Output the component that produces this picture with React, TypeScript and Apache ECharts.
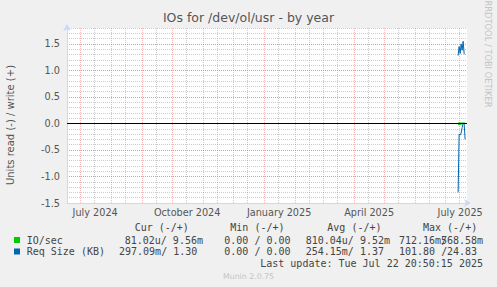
import React, { useEffect, useRef } from 'react';
import * as echarts from 'echarts';

// ---------- data ----------
const titleText = 'IOs for /dev/ol/usr - by year';
const yAxisName = 'Units read (-) / write (+)';
const sideText = 'RRDTOOL / TOBI OETIKER';
const versionText = 'Munin 2.0.75';

const rangeStart = '2024-06-17T20:50:15Z';
const rangeEnd = '2025-07-22T20:50:15Z';

const monthStarts = [
  '2024-07-01', '2024-08-01', '2024-09-01', '2024-10-01', '2024-11-01', '2024-12-01',
  '2025-01-01', '2025-02-01', '2025-03-01', '2025-04-01', '2025-05-01', '2025-06-01', '2025-07-01',
];
const midMonths = [
  '2024-07-15', '2024-08-15', '2024-09-15', '2024-10-15', '2024-11-15', '2024-12-15',
  '2025-01-15', '2025-02-15', '2025-03-15', '2025-04-15', '2025-05-15', '2025-06-15', '2025-07-15',
];
const xLabelDates = ['2024-07-16', '2024-10-16', '2025-01-16', '2025-04-16', '2025-07-16'];
const xLabelTexts = ['July 2024', 'October 2024', 'January 2025', 'April 2025', 'July 2025'];
const yMajorTicks = [-1.5, -1.0, -0.5, 0, 0.5, 1.0, 1.5];

const days = ['2025-07-14', '2025-07-15', '2025-07-16', '2025-07-17', '2025-07-18', '2025-07-19', '2025-07-20', '2025-07-21'];
const ioRead = [-0.02, -0.02, -0.02, -0.015, -0.001, -0.001, -0.001, -0.0001];
const ioWrite = [0.009, 0.01, 0.009, 0.01, 0.009, 0.01, 0.009, 0.0096];
const reqRead = [-1.3, -0.2, -0.22, -0.18, -0.08, 0, 0, -0.3];
const reqWrite = [1.28, 1.45, 1.32, 1.5, 1.38, 1.55, 1.32, 1.3];

const legendNames = ['IO/sec', 'Req Size (KB)'];
const legendColors = ['#00cc00', '#0066b3'];
const headerTexts = ['Cur (-/+)', 'Min (-/+)', 'Avg (-/+)', 'Max (-/+)'];
const curVals = ['81.02u/ 9.56m', '297.09m/ 1.30'];
const minVals = ['0.00 / 0.00', '0.00 / 0.00'];
const avgVals = ['810.04u/ 9.52m', '254.15m/ 1.37'];
const maxReadVals = ['712.16m/', '101.80 /'];
const maxWriteVals = ['568.58m', '24.83'];
const lastUpdate = 'Last update: Tue Jul 22 20:50:15 2025';

// ---------- helpers / styles ----------
const ts = (s: string) => new Date(s.length === 10 ? s + 'T00:00:00Z' : s).getTime();
const FONT = '"DejaVu Sans", sans-serif';
const MONO = '"DejaVu Sans Mono", monospace';
const AXIS_COLOR = '#CFD6F8';
const MAJOR = 'rgba(231, 94, 94, 0.42)';
const MINOR = 'rgba(143, 143, 143, 0.45)';
const TEXT = '#555555';
const LEG = '#444444';

function text(x: number, y: number, t: string, opts: any = {}) {
  return {
    type: 'text',
    x,
    y,
    rotation: opts.rotation || 0,
    silent: true,
    style: {
      text: t,
      fill: opts.fill || LEG,
      fontSize: opts.fontSize || 10,
      fontFamily: opts.fontFamily || MONO,
      align: opts.align || 'left',
      verticalAlign: 'middle',
      textAlign: opts.align || 'left',
      textVerticalAlign: 'middle',
    },
  };
}

function buildOption() {
  const xMin = ts(rangeStart);
  const xMax = ts(rangeEnd);
  const pts = (vals: number[]) => days.map((d, i) => [ts(d), vals[i]]);

  const commonX = { type: 'value', min: xMin, max: xMax, position: 'bottom', gridIndex: 0 };
  const commonY = { type: 'value', min: -1.5, max: 1.8, position: 'left', gridIndex: 0 };

  const graphics: any[] = [];
  graphics.push(text(10.5, 125, yAxisName, { rotation: Math.PI / 2, align: 'center', fontFamily: FONT, fontSize: 10, fill: TEXT }));
  graphics.push(text(487.5, 54, sideText, { rotation: -Math.PI / 2, align: 'center', fontFamily: FONT, fontSize: 8.3, fill: '#c4c4c4' }));
  graphics.push(text(248.5, 276, versionText, { align: 'center', fontFamily: FONT, fontSize: 7.8, fill: '#c4c4c4' }));

  const headerX = [134.7, 230.3, 327.3, 423];
  headerTexts.forEach((h, i) => graphics.push(text(headerX[i], 227.5, h)));
  const rowY = [240, 251.5];
  const curX = [124.7, 119];
  const maxWX = [441, 447];
  legendNames.forEach((n, i) => {
    graphics.push({
      type: 'rect',
      shape: { x: 14, y: rowY[i] - 3, width: 6, height: 6 },
      style: { fill: legendColors[i] },
      silent: true,
    });
    graphics.push(text(26.7, rowY[i], n));
    graphics.push(text(curX[i], rowY[i], curVals[i]));
    graphics.push(text(224.3, rowY[i], minVals[i]));
    graphics.push(text(305.7, rowY[i], avgVals[i]));
    graphics.push(text(399, rowY[i], maxReadVals[i]));
    graphics.push(text(maxWX[i], rowY[i], maxWriteVals[i]));
  });
  graphics.push(text(483, 263, lastUpdate, { align: 'right' }));

  const lineSeries = (name: string, vals: number[], color: string, extra: any = {}) => ({
    name,
    type: 'line',
    xAxisIndex: 2,
    yAxisIndex: 1,
    data: pts(vals),
    showSymbol: false,
    symbol: 'none',
    lineStyle: { color, width: 1 },
    itemStyle: { color },
    ...extra,
  });

  return {
    animation: false,
    backgroundColor: '#f0f0f0',
    title: {
      text: titleText,
      left: 'center',
      top: 11,
      padding: 0,
      textStyle: { fontSize: 12.5, fontWeight: 'normal', fontFamily: FONT, color: TEXT },
    },
    grid: {
      left: 67,
      top: 28,
      width: 400,
      height: 175,
      show: true,
      backgroundColor: '#ffffff',
      borderWidth: 0,
      containLabel: false,
    },
    xAxis: [
      {
        ...commonX,
        axisLine: { show: false },
        axisLabel: { show: false },
        axisTick: { show: false, customValues: midMonths.map(ts) },
        splitLine: { show: true, lineStyle: { color: MINOR, type: [1, 1], width: 1 } },
      },
      {
        ...commonX,
        axisLine: { show: false },
        axisLabel: { show: false },
        axisTick: { show: false, customValues: monthStarts.map(ts) },
        splitLine: { show: true, lineStyle: { color: MAJOR, type: [1, 1], width: 1 } },
      },
      {
        ...commonX,
        axisLine: {
          show: true,
          lineStyle: { color: AXIS_COLOR, width: 1 },
          symbol: ['none', 'arrow'],
          symbolSize: [6, 7],
          symbolOffset: [0, 4],
        },
        axisTick: { show: false },
        splitLine: { show: false },
        axisLabel: {
          show: true,
          customValues: xLabelDates.map(ts),
          formatter: (v: number) => {
            const i = xLabelDates.findIndex((d) => ts(d) === v);
            return i >= 0 ? xLabelTexts[i] : '';
          },
          color: TEXT,
          fontSize: 9.7,
          fontFamily: FONT,
          margin: 4,
        },
      },
    ],
    yAxis: [
      {
        ...commonY,
        interval: 0.1,
        axisLine: { show: false },
        axisLabel: { show: false },
        axisTick: { show: false },
        splitLine: { show: true, lineStyle: { color: MINOR, type: [1, 1], width: 1 } },
      },
      {
        ...commonY,
        axisLine: {
          show: true,
          lineStyle: { color: AXIS_COLOR, width: 1 },
          symbol: ['none', 'arrow'],
          symbolSize: [6, 7],
          symbolOffset: [0, 4],
        },
        axisTick: { show: false, customValues: yMajorTicks },
        axisLabel: {
          show: true,
          customValues: yMajorTicks,
          formatter: (v: number) => v.toFixed(1),
          color: TEXT,
          fontSize: 9.7,
          fontFamily: FONT,
          margin: 7,
        },
        splitLine: { show: true, lineStyle: { color: MAJOR, type: [1, 1], width: 1 } },
      },
    ],
    series: [
      lineSeries('IO/sec read', ioRead, legendColors[0], {
        markLine: {
          silent: true,
          symbol: ['none', 'none'],
          label: { show: false },
          lineStyle: { color: '#000000', width: 1, type: 'solid' },
          data: [{ yAxis: 0 }],
        },
      }),
      lineSeries('IO/sec write', ioWrite, legendColors[0]),
      lineSeries('Req Size read', reqRead, legendColors[1]),
      lineSeries('Req Size write', reqWrite, legendColors[1]),
    ],
    graphic: graphics,
  };
}

export default function App() {
  const ref = useRef<HTMLDivElement>(null);
  useEffect(() => {
    if (!ref.current) return;
    const chart = echarts.init(ref.current, null, { renderer: 'svg' });
    chart.setOption(buildOption() as any);
    return () => chart.dispose();
  }, []);
  return <div ref={ref} style={{ position: 'fixed', left: 0, top: 0, width: 497, height: 287 }} />;
}
